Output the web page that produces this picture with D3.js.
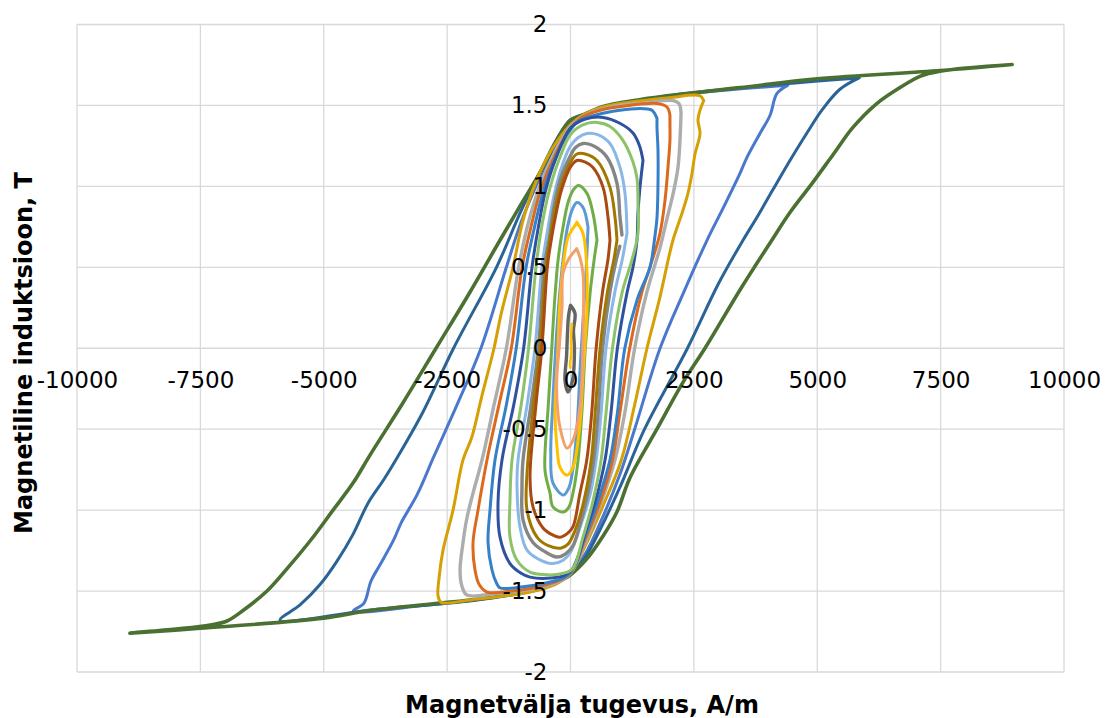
<!DOCTYPE html>
<html>
<head>
<meta charset="utf-8">
<script src="https://cdn.jsdelivr.net/npm/d3@7"></script>
<style>
  html, body { margin: 0; padding: 0; background: #fff; }
  svg { display: block; }
  text { font-family: "DejaVu Sans", Verdana, sans-serif; }
</style>
</head>
<body>
<svg id="chart" width="1110" height="718"></svg>
<script>
// Tick values
const xTicks = [-10000, -7500, -5000, -2500, 0, 2500, 5000, 7500, 10000];
const yTicks = [-2, -1.5, -1, -0.5, 0, 0.5, 1, 1.5, 2];

// Hysteresis loops, [H (A/m), B (T)], largest first
const loop8950 = [[8950,1.753],[7500,1.716],[5000,1.665],[3434,1.61],[1610,1.545],[660,1.494],[250,1.44],[0,1.41],[-250,1.30],[-557,1.117],[-1000,0.89],[-1429,0.667],[-2050,0.34],[-2725,0],[-3400,-0.34],[-4063,-0.66],[-4400,-0.83],[-4812,-1.0],[-5250,-1.18],[-5683,-1.34],[-6150,-1.50],[-6636,-1.62],[-6960,-1.685],[-7300,-1.71],[-8000,-1.735],[-8930,-1.76],
  [-7500,-1.73],[-5000,-1.667],[-4063,-1.62],[-1610,-1.54],[-660,-1.49],[-300,-1.45],[0,-1.40],[334,-1.30],[660,-1.16],[942,-1.01],[1205,-0.80],[1750,-0.5],[2300,-0.2],[2725,0],[3434,0.36],[4063,0.66],[4450,0.84],[4900,1.02],[5330,1.20],[5723,1.364],[6200,1.51],[6675,1.61],[7080,1.68],[7485,1.712],[8950,1.753]];
const loop5850 = [[5850,1.67],[4000,1.625],[2000,1.56],[800,1.50],[300,1.45],[0,1.41],[-300,1.28],[-600,1.10],[-1000,0.85],[-1500,0.5],[-2370,0],[-3000,-0.4],[-3495,-0.667],[-3779,-0.809],[-4103,-0.957],[-4407,-1.15],[-4731,-1.315],[-5075,-1.46],[-5480,-1.586],[-5885,-1.68],
  [-4000,-1.615],[-2000,-1.56],[-800,-1.50],[-300,-1.45],[0,-1.40],[300,-1.29],[600,-1.12],[1000,-0.86],[1500,-0.5],[2370,0],[3000,0.4],[3495,0.667],[3779,0.809],[4103,0.98],[4447,1.16],[4791,1.33],[5116,1.48],[5460,1.60],[5850,1.67]];
const loop4400 = [[4400,1.624],[3000,1.59],[1600,1.54],[700,1.49],[250,1.44],[0,1.40],[-300,1.26],[-600,1.07],[-1000,0.78],[-1300,0.5],[-1815,0],[-2300,-0.35],[-2766,-0.667],[-3100,-0.9],[-3434,-1.08],[-3576,-1.179],[-3839,-1.327],[-4042,-1.438],[-4184,-1.574],[-4400,-1.624],
  [-3000,-1.59],[-1600,-1.54],[-700,-1.49],[-250,-1.44],[0,-1.39],[300,-1.27],[600,-1.08],[1000,-0.78],[1300,-0.5],[1815,0],[2300,0.35],[2766,0.667],[3100,0.87],[3434,1.08],[3576,1.179],[3839,1.327],[4042,1.438],[4184,1.574],[4400,1.624]];
const loop2700 = [[2700,1.53],[2620,1.56],[2000,1.548],[1200,1.52],[660,1.49],[250,1.44],[0,1.38],[-355,1.24],[-689,1.037],[-962,0.79],[-1165,0.5],[-1400,0.22],[-1550,0],[-1800,-0.3],[-2000,-0.55],[-2178,-0.69],[-2380,-1.0],[-2583,-1.247],[-2660,-1.41],[-2684,-1.53],[-2620,-1.57],
  [-2000,-1.553],[-1200,-1.525],[-600,-1.49],[-250,-1.45],[0,-1.39],[300,-1.22],[650,-0.98],[1030,-0.69],[1300,-0.35],[1550,0],[1800,0.3],[2076,0.667],[2259,0.833],[2380,0.957],[2462,1.08],[2523,1.20],[2624,1.327],[2583,1.41],[2624,1.47],[2700,1.53]];
const loop2250 = [[2240,1.45],[2200,1.51],[2076,1.53],[1500,1.515],[800,1.49],[300,1.44],[0,1.37],[-300,1.22],[-600,1.02],[-850,0.78],[-1050,0.5],[-1300,0],[-1550,-0.35],[-1793,-0.69],[-1975,-0.895],[-2100,-1.05],[-2178,-1.2],[-2238,-1.37],[-2200,-1.47],[-2097,-1.525],
  [-1500,-1.515],[-800,-1.49],[-300,-1.45],[0,-1.39],[300,-1.20],[600,-0.97],[900,-0.69],[1100,-0.4],[1300,0],[1550,0.35],[1813,0.62],[1955,0.80],[2076,0.95],[2178,1.117],[2218,1.284],[2240,1.45]];
const loop2000 = [[2015,1.44],[1955,1.49],[1753,1.512],[1200,1.50],[600,1.47],[200,1.42],[0,1.36],[-300,1.20],[-600,0.98],[-800,0.75],[-980,0.5],[-1200,0],[-1450,-0.35],[-1692,-0.69],[-1874,-1.0],[-1975,-1.2],[-1935,-1.37],[-1850,-1.46],[-1692,-1.506],
  [-1200,-1.50],[-600,-1.47],[-200,-1.43],[0,-1.39],[300,-1.18],[600,-0.95],[850,-0.69],[1000,-0.4],[1200,0],[1450,0.35],[1610,0.5],[1813,0.71],[1915,0.914],[1975,1.117],[2015,1.284],[2015,1.39],[2015,1.44]];
const loop1770 = [[1753,1.42],[1650,1.47],[1479,1.48],[1000,1.47],[500,1.44],[150,1.40],[0,1.35],[-300,1.18],[-550,0.97],[-750,0.72],[-900,0.5],[-1100,0],[-1300,-0.35],[-1530,-0.69],[-1631,-1.0],[-1671,-1.2],[-1591,-1.37],[-1500,-1.45],[-1429,-1.48],
  [-1000,-1.475],[-500,-1.45],[-150,-1.42],[0,-1.385],[300,-1.16],[550,-0.95],[800,-0.69],[950,-0.4],[1100,0],[1350,0.3],[1610,0.5],[1700,0.667],[1753,0.809],[1773,1.018],[1773,1.222],[1753,1.364],[1753,1.42]];
const loop1470 = [[1469,1.16],[1400,1.25],[1266,1.33],[1000,1.39],[660,1.426],[300,1.415],[0,1.36],[-300,1.17],[-500,0.98],[-650,0.75],[-780,0.5],[-950,0],[-1150,-0.35],[-1388,-0.69],[-1469,-0.957],[-1429,-1.167],[-1226,-1.33],[-1000,-1.39],[-820,-1.414],
  [-400,-1.42],[-100,-1.40],[80,-1.35],[300,-1.14],[500,-0.95],[700,-0.69],[820,-0.4],[950,0],[1150,0.35],[1266,0.5],[1347,0.667],[1367,0.833],[1408,0.994],[1469,1.16]];
const loop1370 = [[1367,0.9],[1347,1.05],[1266,1.15],[1063,1.284],[800,1.37],[537,1.395],[250,1.38],[0,1.32],[-250,1.15],[-450,0.95],[-600,0.72],[-700,0.5],[-850,0],[-1000,-0.35],[-1185,-0.69],[-1226,-0.938],[-1226,-1.167],[-1084,-1.31],[-820,-1.383],[-450,-1.40],[-150,-1.39],
  [50,-1.36],[250,-1.17],[450,-0.95],[620,-0.69],[720,-0.4],[850,0],[1050,0.35],[1250,0.55],[1367,0.71],[1367,0.9]];
const loop1150 = [[1145,0.71],[1104,0.957],[1003,1.117],[800,1.265],[550,1.32],[334,1.327],[150,1.30],[0,1.25],[-200,1.10],[-350,0.92],[-480,0.70],[-580,0.5],[-720,0],[-880,-0.35],[-1063,-0.69],[-1084,-0.858],[-1023,-1.105],[-881,-1.247],[-600,-1.31],[-355,-1.33],[-150,-1.31],
  [0,-1.26],[200,-1.10],[400,-0.90],[520,-0.69],[620,-0.4],[720,0],[900,0.35],[1050,0.55],[1145,0.71]];
const loop1040 = [[1043,0.70],[1003,0.809],[942,1.018],[740,1.18],[500,1.245],[253,1.265],[100,1.24],[0,1.19],[-200,1.05],[-330,0.88],[-430,0.68],[-530,0.5],[-650,0],[-800,-0.35],[-962,-0.69],[-983,-0.858],[-962,-1.06],[-760,-1.2],[-500,-1.26],[-274,-1.29],[-100,-1.27],
  [50,-1.22],[200,-1.08],[350,-0.9],[470,-0.69],[560,-0.4],[650,0],[800,0.35],[930,0.55],[1000,0.63]];
const loop940 = [[942,0.667],[902,0.809],[800,0.994],[537,1.16],[300,1.20],[130,1.20],[0,1.15],[-200,1.0],[-330,0.83],[-430,0.65],[-500,0.5],[-620,0],[-750,-0.35],[-881,-0.772],[-881,-1.0],[-679,-1.167],[-450,-1.22],[-200,-1.235],
  [-50,-1.21],[100,-1.12],[250,-0.97],[420,-0.69],[500,-0.4],[600,0],[750,0.35],[880,0.55],[942,0.667]];
const loop800 = [[800,0.667],[760,0.809],[660,0.994],[456,1.117],[300,1.15],[130,1.16],[0,1.12],[-180,0.98],[-300,0.82],[-400,0.65],[-470,0.5],[-580,0],[-700,-0.35],[-820,-0.796],[-760,-0.98],[-557,-1.11],[-350,-1.155],[-213,-1.167],
  [-50,-1.14],[54,-1.1],[192,-0.895],[330,-0.69],[430,-0.4],[520,0],[650,0.35],[760,0.55],[800,0.667]];
const loop540 = [[537,0.667],[456,0.833],[334,0.957],[162,1.006],[60,0.98],[-50,0.90],[-150,0.75],[-250,0.55],[-320,0.3],[-380,0],[-450,-0.35],[-517,-0.753],[-415,-0.895],[-355,-0.98],[-142,-1.012],
  [-30,-0.98],[60,-0.88],[150,-0.7],[230,-0.4],[300,0],[400,0.35],[480,0.55],[537,0.667]];
const loop360 = [[355,0.747],[253,0.87],[130,0.90],[40,0.86],[-60,0.75],[-150,0.55],[-230,0.3],[-300,0],[-360,-0.35],[-400,-0.65],[-355,-0.833],[-142,-0.907],
  [-30,-0.86],[60,-0.72],[140,-0.45],[200,-0.1],[260,0.2],[320,0.5],[355,0.747]];
const loop330 = [[130,0.778],[30,0.73],[-51,0.685],[-152,0.5],[-220,0.25],[-253,0],[-314,-0.4],[-274,-0.61],[-213,-0.735],[-71,-0.784],
  [51,-0.735],[192,-0.463],[253,-0.154],[334,0.253],[330,0.5],[253,0.71],[130,0.778]];
const loop250 = [[125,0.615],[-40,0.55],[-152,0.463],[-172,0.253],[-230,0.0],[-274,-0.154],[-274,-0.32],[-213,-0.488],[-71,-0.617],
  [51,-0.568],[192,-0.364],[253,0.049],[253,0.463],[192,0.56],[125,0.615]];
const loop100 = [[0,0.265],[91,0.216],[60,0.11],[80,0],[40,-0.2],[-51,-0.27],[-111,-0.2],[-80,-0.05],[-60,0.1],[-40,0.2],[0,0.265]];
const loop30 = [[30,0.15],[10,0.05],[20,-0.02],[-10,-0.1],[0,-0.12]];

// Series, drawn in this order, with their stroke colours
const series = [loop4400, loop5850, loop8950, loop2700, loop2250, loop2000, loop1770, loop1470, loop1370,
  loop1150, loop1040, loop940, loop800, loop540, loop360, loop330, loop250, loop100, loop30];
const colors = ["#4A78CC", "#2A6496", "#4B7132", "#D4A005", "#ADADAD", "#DC6A1E", "#3580C8", "#2F52A0", "#8CC36A",
  "#8AB8E6", "#858585", "#A07800", "#A84A12", "#70AD47", "#5B9BD5", "#FFC000", "#F4A06A", "#646464", "#FFC000"];
const widths = [3, 3, 3.6, 3, 3.4, 3, 3, 3, 3, 3, 3.4, 3, 3, 3, 3, 3, 3, 3.4, 2.5];

const svg = d3.select("#chart");
svg.append("rect").attr("width", 1110).attr("height", 718).attr("fill", "#fff");

const x = d3.scaleLinear().domain([-10000, 10000]).range([77, 1064]);
const y = d3.scaleLinear().domain([-2, 2]).range([672, 24.5]);

// Gridlines
const grid = svg.append("g").attr("stroke", "#D9D9D9").attr("stroke-width", 1.3);
grid.selectAll("line.v").data(xTicks).join("line")
  .attr("x1", d => x(d)).attr("x2", d => x(d)).attr("y1", y(2)).attr("y2", y(-2));
grid.selectAll("line.h").data(yTicks).join("line")
  .attr("x1", x(-10000)).attr("x2", x(10000)).attr("y1", d => y(d)).attr("y2", d => y(d));

// Loops
const line = d3.line().x(d => x(d[0])).y(d => y(d[1])).curve(d3.curveCatmullRom.alpha(0.5));
svg.append("g").attr("fill", "none").attr("stroke-linejoin", "round").attr("stroke-linecap", "round")
  .selectAll("path").data(series).join("path")
  .attr("d", line)
  .attr("stroke", (d, i) => colors[i])
  .attr("stroke-width", (d, i) => widths[i]);

// Axes through the origin, labels only
const fmt = d => String(d);
const xAxis = svg.append("g").attr("transform", `translate(0,${y(0)})`)
  .call(d3.axisBottom(x).tickValues(xTicks).tickFormat(fmt).tickSize(0).tickPadding(23.5));
const yAxis = svg.append("g").attr("transform", `translate(${x(0)},0)`)
  .call(d3.axisLeft(y).tickValues(yTicks).tickFormat(fmt).tickSize(0).tickPadding(23));
[xAxis, yAxis].forEach(a => {
  a.select(".domain").remove();
  a.selectAll("text").attr("font-family", "DejaVu Sans, Verdana, sans-serif")
    .attr("font-size", 23).attr("fill", "#000");
});

// Axis titles
svg.append("text").attr("x", 582).attr("y", 713).attr("text-anchor", "middle")
  .attr("font-size", 24).attr("font-weight", "bold").attr("fill", "#000")
  .text("Magnetvälja tugevus, A/m");
svg.append("text").attr("transform", "translate(32,353) rotate(-90)").attr("text-anchor", "middle")
  .attr("font-size", 24).attr("font-weight", "bold").attr("fill", "#000")
  .text("Magnetiline induktsioon, T");
</script>
</body>
</html>
